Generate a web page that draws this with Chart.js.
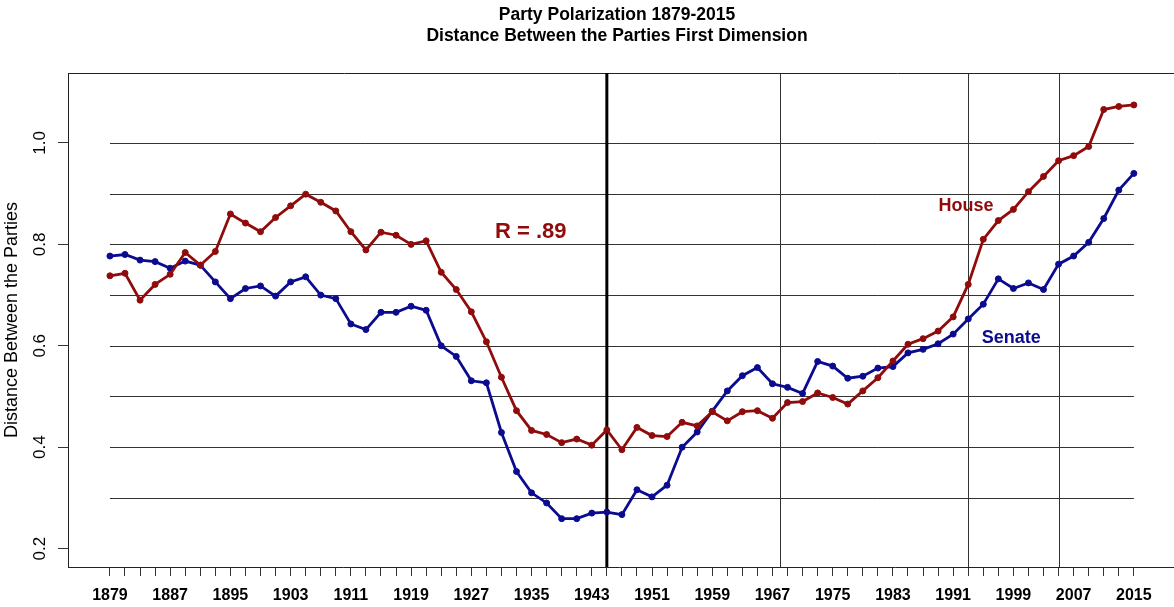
<!DOCTYPE html>
<html>
<head>
<meta charset="utf-8">
<title>Party Polarization 1879-2015</title>
<script src="https://cdn.jsdelivr.net/npm/chart.js@4.4.0/dist/chart.umd.min.js"></script>
<style>
    html, body { margin: 0; padding: 0; background: #fff; }
    #wrap { width: 1174px; height: 607px; }
</style>
</head>
<body>
<div id="wrap"><canvas id="polarChart" width="1174" height="607"></canvas></div>
<script>
// Congress start years (every 2 years)
const years = [
    1879, 1881, 1883, 1885, 1887, 1889, 1891, 1893, 1895, 1897,
    1899, 1901, 1903, 1905, 1907, 1909, 1911, 1913, 1915, 1917,
    1919, 1921, 1923, 1925, 1927, 1929, 1931, 1933, 1935, 1937,
    1939, 1941, 1943, 1945, 1947, 1949, 1951, 1953, 1955, 1957,
    1959, 1961, 1963, 1965, 1967, 1969, 1971, 1973, 1975, 1977,
    1979, 1981, 1983, 1985, 1987, 1989, 1991, 1993, 1995, 1997,
    1999, 2001, 2003, 2005, 2007, 2009, 2011, 2013, 2015
];

const house = [
    0.738, 0.743, 0.690, 0.721, 0.741, 0.784, 0.759, 0.786, 0.860, 0.842,
    0.825, 0.853, 0.876, 0.899, 0.883, 0.866, 0.825, 0.789, 0.824, 0.818,
    0.800, 0.807, 0.745, 0.711, 0.667, 0.608, 0.538, 0.472, 0.433, 0.425,
    0.409, 0.416, 0.404, 0.434, 0.395, 0.439, 0.423, 0.421, 0.449, 0.442,
    0.470, 0.452, 0.470, 0.472, 0.457, 0.488, 0.490, 0.507, 0.498, 0.485,
    0.511, 0.537, 0.570, 0.603, 0.614, 0.629, 0.657, 0.721, 0.810, 0.847,
    0.869, 0.904, 0.934, 0.965, 0.975, 0.993, 1.066, 1.072, 1.075
];

const senate = [
    0.777, 0.780, 0.769, 0.766, 0.753, 0.767, 0.759, 0.726, 0.693, 0.713,
    0.718, 0.698, 0.726, 0.736, 0.700, 0.693, 0.643, 0.632, 0.666, 0.666,
    0.678, 0.670, 0.600, 0.579, 0.531, 0.527, 0.429, 0.352, 0.310, 0.290,
    0.259, 0.259, 0.270, 0.272, 0.267, 0.316, 0.302, 0.325, 0.400, 0.430,
    0.471, 0.511, 0.541, 0.557, 0.525, 0.518, 0.506, 0.569, 0.560, 0.536,
    0.540, 0.556, 0.559, 0.586, 0.593, 0.604, 0.623, 0.653, 0.682, 0.732,
    0.713, 0.724, 0.711, 0.761, 0.777, 0.804, 0.851, 0.907, 0.940
];

const xLabelYears = [1879, 1887, 1895, 1903, 1911, 1919, 1927, 1935, 1943, 1951, 1959, 1967, 1975, 1983, 1991, 1999, 2007, 2015];
const yTickValues = [0.2, 0.4, 0.6, 0.8, 1.0];
const yTickLabels = ['0.2', '0.4', '0.6', '0.8', '1.0'];
const hGridValues = [0.3, 0.4, 0.5, 0.6, 0.7, 0.8, 0.9, 1.0];
const thinMarkerYears = [1968, 1993, 2005];
const thickMarkerYear = 1945;

const RED = '#900b0b';
const BLUE = '#0b0b90';
const FONT = '"Liberation Sans", Arial, Helvetica, sans-serif';

// Grid, marker lines, box and text drawn through the chart scales
const decor = {
    id: 'decor',
    beforeDatasetsDraw(chart) {
        const { ctx, chartArea: a, scales: { x, y } } = chart;
        ctx.save();
        ctx.strokeStyle = '#333';
        ctx.lineWidth = 1;
        const x0 = x.getPixelForValue(years[0]);
        const x1 = x.getPixelForValue(years[years.length - 1]);
        hGridValues.forEach(v => {
            const py = Math.round(y.getPixelForValue(v)) + 0.5;
            ctx.beginPath();
            ctx.moveTo(x0, py);
            ctx.lineTo(x1, py);
            ctx.stroke();
        });
        thinMarkerYears.forEach(yr => {
            const px = Math.round(x.getPixelForValue(yr)) + 0.5;
            ctx.beginPath();
            ctx.moveTo(px, a.top);
            ctx.lineTo(px, a.bottom);
            ctx.stroke();
        });
        // top of the box
        ctx.strokeStyle = '#222';
        ctx.beginPath();
        ctx.moveTo(a.left, a.top + 0.5);
        ctx.lineTo(chart.width, a.top + 0.5);
        ctx.stroke();
        // 1945 divider
        ctx.strokeStyle = '#000';
        ctx.lineWidth = 3;
        const tx = x.getPixelForValue(thickMarkerYear);
        ctx.beginPath();
        ctx.moveTo(tx, a.top);
        ctx.lineTo(tx, a.bottom);
        ctx.stroke();
        ctx.restore();
    },
    afterDraw(chart) {
        const { ctx, chartArea: a, scales: { x, y } } = chart;
        ctx.save();
        ctx.textAlign = 'center';
        ctx.textBaseline = 'middle';

        // title
        ctx.fillStyle = '#000';
        ctx.font = 'bold 17.5px ' + FONT;
        ctx.fillText('Party Polarization 1879-2015', 617, 15);
        ctx.fillText('Distance Between the Parties First Dimension', 617, 36);

        // y tick labels, rotated like the axis
        ctx.font = '17px ' + FONT;
        yTickValues.forEach((v, i) => {
            ctx.save();
            ctx.translate(40, y.getPixelForValue(v));
            ctx.rotate(-Math.PI / 2);
            ctx.fillText(yTickLabels[i], 0, 0);
            ctx.restore();
        });

        // y axis title
        ctx.save();
        ctx.font = '18px ' + FONT;
        ctx.translate(12, (a.top + a.bottom) / 2);
        ctx.rotate(-Math.PI / 2);
        ctx.fillText('Distance Between the Parties', 0, 0);
        ctx.restore();

        // bottom axis runs to the page edge
        ctx.strokeStyle = '#222';
        ctx.lineWidth = 1;
        ctx.beginPath();
        ctx.moveTo(a.right, a.bottom + 0.5);
        ctx.lineTo(chart.width, a.bottom + 0.5);
        ctx.stroke();

        // annotations
        ctx.font = 'bold 22px ' + FONT;
        ctx.fillStyle = RED;
        ctx.fillText('R = .89', x.getPixelForValue(1934.9), y.getPixelForValue(0.824));
        ctx.font = 'bold 18px ' + FONT;
        ctx.fillText('House', x.getPixelForValue(1992.7), y.getPixelForValue(0.876));
        ctx.fillStyle = BLUE;
        ctx.fillText('Senate', x.getPixelForValue(1998.7), y.getPixelForValue(0.615));
        ctx.restore();
    }
};

const toPoints = vals => years.map((yr, i) => ({ x: yr, y: vals[i] }));

const lineStyle = color => ({
    borderColor: color,
    backgroundColor: color,
    pointBackgroundColor: color,
    pointBorderColor: color,
    borderWidth: 2.8,
    pointRadius: 3,
    pointBorderWidth: 1,
    pointHoverRadius: 3,
    tension: 0,
    fill: false
});

const ctx = document.getElementById('polarChart').getContext('2d');
new Chart(ctx, {
    type: 'line',
    data: {
        datasets: [
            { label: 'House', data: toPoints(house), ...lineStyle(RED) },
            { label: 'Senate', data: toPoints(senate), ...lineStyle(BLUE) }
        ]
    },
    options: {
        responsive: false,
        animation: false,
        events: [],
        layout: { padding: { top: 73, left: 0, right: 0, bottom: 0 } },
        plugins: {
            legend: { display: false },
            tooltip: { enabled: false },
            title: { display: false }
        },
        scales: {
            x: {
                type: 'linear',
                min: 1873.43,
                max: 2019.8,
                afterBuildTicks: s => { s.ticks = years.map(v => ({ value: v })); },
                afterFit: s => { s.height = 40; },
                grid: { drawOnChartArea: false, drawTicks: true, tickLength: 9, color: '#333', lineWidth: 1 },
                border: { display: true, color: '#222', width: 1 },
                ticks: {
                    autoSkip: false,
                    maxRotation: 0,
                    minRotation: 0,
                    padding: 10,
                    color: '#000',
                    font: { family: FONT, size: 16, weight: 'bold' },
                    callback: v => xLabelYears.includes(v) ? String(v) : ''
                }
            },
            y: {
                min: 0.1637,
                max: 1.138,
                afterBuildTicks: s => { s.ticks = yTickValues.map(v => ({ value: v })); },
                afterFit: s => { s.width = 68; },
                grid: { drawOnChartArea: false, drawTicks: true, tickLength: 10, color: '#333', lineWidth: 1 },
                border: { display: true, color: '#222', width: 1 },
                ticks: { display: false }
            }
        }
    },
    plugins: [decor]
});
</script>
</body>
</html>
